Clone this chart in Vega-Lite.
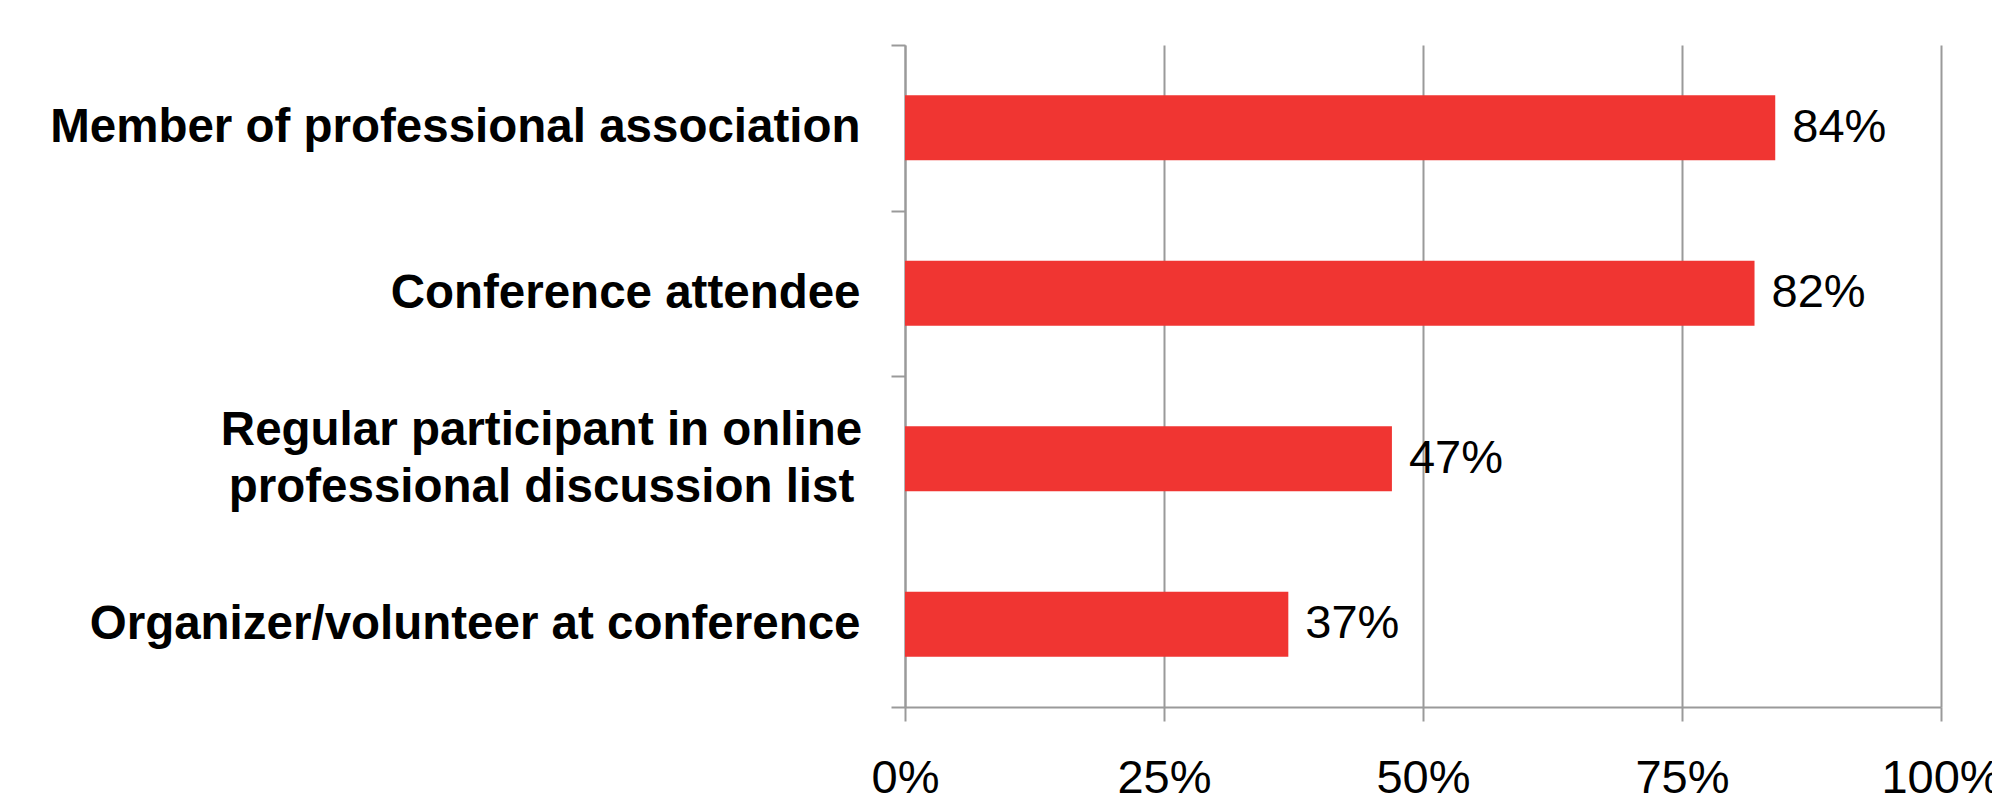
{
  "$schema": "https://vega.github.io/schema/vega-lite/v6.json",
  "autosize": {"type": "none"},
  "padding": {"left": 905, "top": 45, "right": 51, "bottom": 88},
  "width": 1036,
  "height": 662,
  "background": "white",
  "config": {
    "view": {"stroke": null},
    "font": "Liberation Sans"
  },
  "data": {
    "values": [
      {"category": "Member of professional association", "value": 0.84},
      {"category": "Conference attendee", "value": 0.82},
      {"category": "Regular participant in online\nprofessional discussion list", "value": 0.47},
      {"category": "Organizer/volunteer at conference", "value": 0.37}
    ]
  },
  "encoding": {
    "x": {
      "field": "value",
      "type": "quantitative",
      "scale": {"domain": [0, 1], "nice": false},
      "axis": {
        "title": null,
        "values": [0, 0.25, 0.5, 0.75, 1],
        "format": ".0%",
        "labelFont": "Liberation Sans",
        "labelFontSize": 47,
        "labelColor": "black",
        "labelPadding": 34,
        "labelFlush": false,
        "labelOverlap": false,
        "tickSize": 14,
        "tickWidth": 2,
        "tickColor": "#9a9a9a",
        "domainColor": "#9a9a9a",
        "domainWidth": 2,
        "grid": true,
        "gridColor": "#9a9a9a",
        "gridWidth": 2
      }
    }
  },
  "layer": [
    {
      "mark": {"type": "bar", "opacity": 0},
      "encoding": {
        "y": {
          "field": "category",
          "type": "nominal",
          "sort": null,
          "scale": {"paddingInner": 0, "paddingOuter": 0},
          "axis": {
            "orient": "left",
            "title": null,
            "values": ["Member of professional association", "Conference attendee", "Organizer/volunteer at conference"],
            "labelFont": "Liberation Sans",
            "labelFontSize": 47.5,
            "labelFontWeight": "bold",
            "labelColor": "black",
            "labelPadding": 31,
            "labelLimit": 0,
            "tickBand": "extent",
            "tickSize": 14,
            "tickWidth": 2,
            "tickColor": "#9a9a9a",
            "domainColor": "#9a9a9a",
            "domainWidth": 2,
            "grid": false
          }
        }
      }
    },
    {
      "mark": {"type": "bar", "opacity": 0},
      "encoding": {
        "y": {
          "field": "category",
          "type": "nominal",
          "sort": null,
          "scale": {"paddingInner": 0, "paddingOuter": 0},
          "axis": {
            "orient": "left",
            "title": null,
            "values": ["Regular participant in online\nprofessional discussion list"],
            "labelExpr": "split(datum.label, '\\n')",
            "labelFont": "Liberation Sans",
            "labelFontSize": 47.5,
            "labelFontWeight": "bold",
            "labelColor": "black",
            "labelAlign": "center",
            "labelPadding": 350,
            "labelOffset": -28,
            "labelLineHeight": 57,
            "labelLimit": 0,
            "ticks": true,
            "tickSize": 14,
            "tickOpacity": 0,
            "domain": false,
            "grid": false
          }
        }
      }
    },
    {
      "encoding": {
        "y": {
          "field": "category",
          "type": "nominal",
          "sort": null,
          "scale": {"paddingInner": 0.607, "paddingOuter": 0.3035},
          "axis": null
        }
      },
      "layer": [
        {"mark": {"type": "bar", "color": "#F03532"}},
        {
          "mark": {"type": "text", "align": "left", "baseline": "middle", "dx": 17, "fontSize": 47, "font": "Liberation Sans", "color": "black"},
          "encoding": {"text": {"field": "value", "type": "quantitative", "format": ".0%"}}
        }
      ]
    }
  ],
  "resolve": {"scale": {"y": "independent"}, "axis": {"y": "independent"}}
}
